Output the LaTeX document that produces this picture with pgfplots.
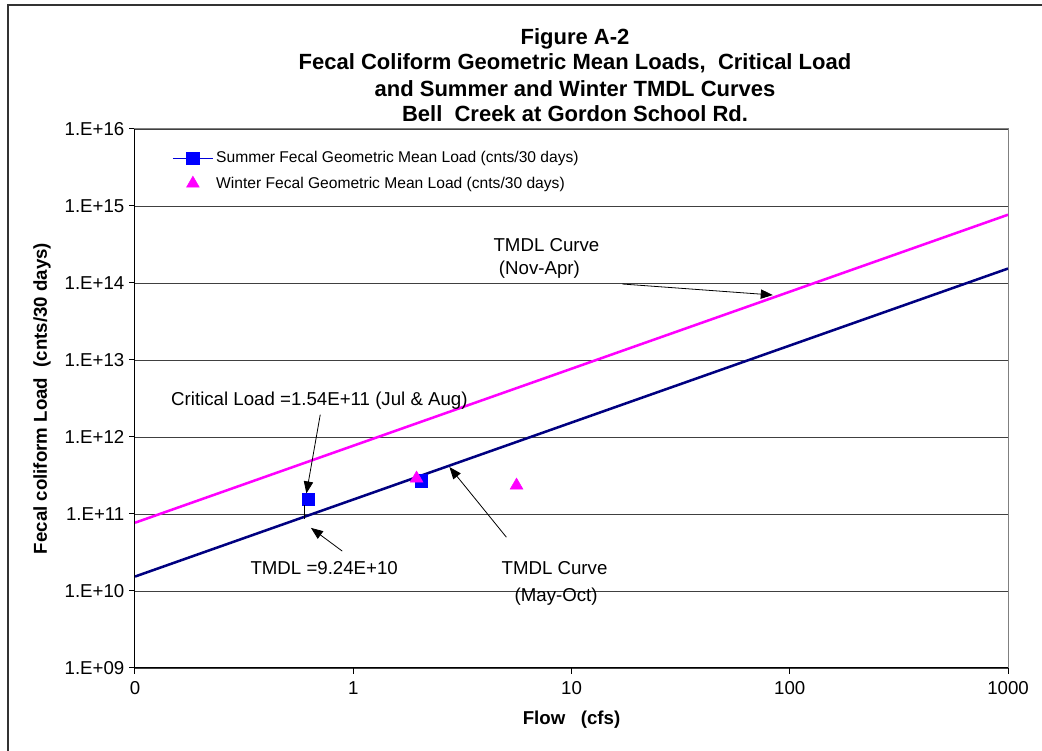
\documentclass[border=0pt]{standalone}
\usepackage{fontspec}
\setmainfont{Liberation Sans}
\usepackage{pgfplots}
\pgfplotsset{compat=1.18}
\usetikzlibrary{arrows.meta}
\definecolor{navyc}{RGB}{0,0,128}
\definecolor{magc}{RGB}{255,0,255}
\definecolor{bluec}{RGB}{0,0,255}
\begin{document}
\begin{tikzpicture}
\useasboundingbox (0,0) rectangle (781.5pt,562.5pt);
\draw[line width=1.6pt, black!80] (6pt,-10pt) -- (6pt,558.5pt) -- (800pt,558.5pt);
\begin{scope}[font=\bfseries\fontsize{16.5}{19}\selectfont]
\node at (431.25pt,533.5pt) {Figure A-2};
\node at (431.25pt,514.75pt) {Fecal Coliform Geometric Mean Loads,\ \ Critical Load};
\node at (431.25pt,496pt) {and Summer and Winter TMDL Curves};
\node at (431.25pt,477.25pt) {Bell\ \ Creek at Gordon School Rd.};
\end{scope}
\begin{axis}[
  at={(101.25pt,61.5pt)}, anchor=south west,
  scale only axis, width=654.75pt, height=404.25pt,
  xmode=log, ymode=log,
  xmin=0.1, xmax=1000, ymin=1e9, ymax=1e16,
  xtick={0.1,1,10,100,1000}, xticklabels={0,1,10,100,1000},
  ytick={1e9,1e10,1e11,1e12,1e13,1e14,1e15,1e16},
  yticklabels={1.E+09,1.E+10,1.E+11,1.E+12,1.E+13,1.E+14,1.E+15,1.E+16},
  xminorticks=false, yminorticks=false,
  tick align=outside, xtick pos=bottom, ytick pos=left,
  major tick length=4.5pt,
  ymajorgrids, grid style={black!75, line width=0.7pt},
  axis line style={gray, line width=0.75pt},
  tick style={black, line width=0.75pt},
  ticklabel style={font=\fontsize{14}{16}\selectfont},
  xticklabel style={yshift=-2pt},
  xlabel={Flow\ \ \ (cfs)}, ylabel={Fecal coliform Load\ \ (cnts/30 days)},
  label style={font=\bfseries\fontsize{14}{16}\selectfont},
  xlabel style={at={(axis description cs:0.5,-0.0965)}, anchor=center},
  ylabel style={at={(axis description cs:-0.1065,0.5)}, anchor=center},
  legend cell align=left,
  legend style={at={(axis description cs:0.0378,0.9685)}, anchor=north west,
    draw=none, fill=none, font=\fontsize{11.7}{14}\selectfont, row sep=5pt,
    nodes={inner sep=2pt}},
  legend image code/.code={\path[draw=none,fill=none] (0cm,0cm) -- (1.06cm,0cm);\draw[mark repeat=2,mark phase=2,#1] plot coordinates {(0cm,0cm) (0.53cm,0cm) (1.06cm,0cm)};},
  clip mode=individual,
]
\addlegendimage{bluec!70!navyc, line width=0.8pt, mark=square*, mark size=4.6pt, mark options={solid,fill=bluec,draw=bluec}}
\addlegendentry{Summer Fecal Geometric Mean Load (cnts/30 days)}
\addlegendimage{only marks, mark=triangle*, mark size=5.5pt, mark options={fill=magc,draw=magc}}
\addlegendentry{Winter Fecal Geometric Mean Load (cnts/30 days)}
% Winter TMDL curve
\addplot[magc, line width=1.9pt, forget plot] coordinates {
 (0.1,7.7e10) (0.2,1.54e11) (0.5,3.85e11) (1,7.7e11) (2,1.54e12) (5,3.85e12)
 (10,7.7e12) (20,1.54e13) (50,3.85e13) (100,7.7e13) (200,1.54e14) (500,3.85e14) (1000,7.7e14)};
% Summer TMDL curve
\addplot[navyc, line width=1.9pt, forget plot] coordinates {
 (0.1,1.54e10) (0.2,3.08e10) (0.5,7.7e10) (1,1.54e11) (2,3.08e11) (5,7.7e11)
 (10,1.54e12) (20,3.08e12) (50,7.7e12) (100,1.54e13) (200,3.08e13) (500,7.7e13) (1000,1.54e14)};
% Summer points
\addplot[only marks, mark=square*, mark size=4.6pt, mark options={fill=bluec,draw=bluec}, forget plot] coordinates {
 (0.62,1.54e11) (2.05,2.7e11)};
% Winter points
\addplot[only marks, mark=triangle*, mark size=5.5pt, mark options={fill=magc,draw=magc}, forget plot] coordinates {
 (1.95,2.9e11) (5.6,2.35e11)};
% axis left and bottom in black
\draw[black, line width=0.75pt] (axis description cs:0,1) -- (axis description cs:0,0) -- (axis description cs:1,0);
% annotations
\begin{scope}[font=\fontsize{14}{16}\selectfont]
\node at (axis cs:0.70,2.95e12) {Critical Load =1.54E+11 (Jul \& Aug)};
\draw[-{Triangle[length=9pt,width=7pt]}, line width=0.6pt] (axis cs:0.706,1.95e12) -- (axis cs:0.61,1.85e11);
\draw[line width=0.6pt] (axis cs:0.6,1.3e11) -- (axis cs:0.6,8.5e10);
\node at (axis cs:0.736,2.0e10) {TMDL =9.24E+10};
\draw[-{Triangle[length=9pt,width=7pt]}, line width=0.6pt] (axis cs:0.89,3.3e10) -- (axis cs:0.64,6.6e10);
\node at (axis cs:8.36,2.0e10) {TMDL Curve};
\node at (axis cs:8.5,8.36e9) {(May-Oct)};
\draw[-{Triangle[length=9pt,width=7pt]}, line width=0.6pt] (axis cs:5.03,5.0e10) -- (axis cs:2.76,4.07e11);
\node at (axis cs:7.68,3.1e14) {TMDL Curve};
\node at (axis cs:7.13,1.48e14) {(Nov-Apr)};
\draw[-{Triangle[length=9pt,width=7pt]}, line width=0.6pt] (axis cs:17.1,9.7e13) -- (axis cs:83.6,6.98e13);
\end{scope}
\end{axis}
\end{tikzpicture}
\end{document}
